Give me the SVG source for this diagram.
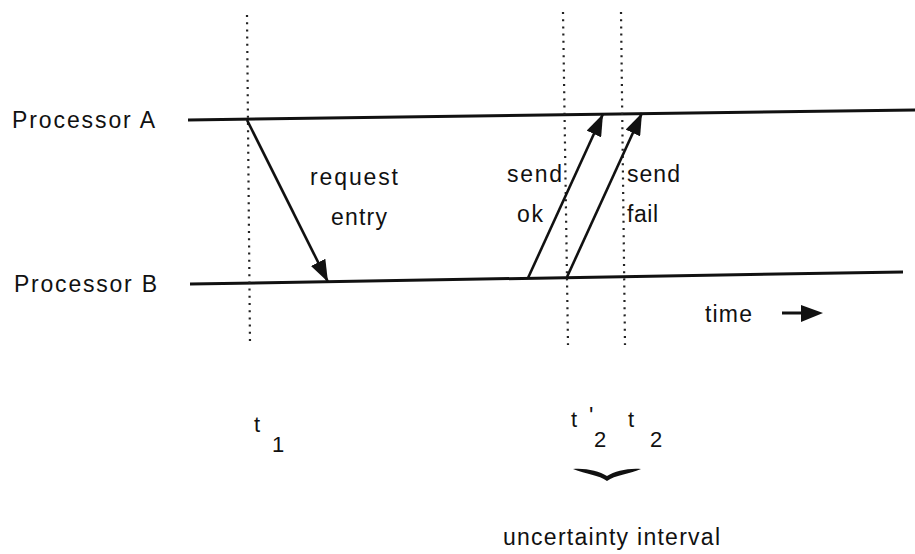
<svg xmlns="http://www.w3.org/2000/svg" width="915" height="554" viewBox="0 0 915 554">
<style>
text{font-family:"Liberation Sans",Arial,sans-serif;font-size:23px;fill:#111}
.sub{font-size:22px}
.line{stroke:#111;stroke-width:3;fill:none}
.arrow{stroke:#111;stroke-width:2.6;fill:none;marker-end:url(#ah)}
.dot{stroke:#222;stroke-width:2.2;stroke-dasharray:2 5.2;fill:none}
</style>
<defs>
<marker id="ah" markerUnits="userSpaceOnUse" viewBox="0 0 22 16" refX="22" refY="8" markerWidth="22" markerHeight="16" orient="auto">
<path d="M0,0 L22,8 L0,16 Z" fill="#111"/>
</marker>
</defs>
<rect width="915" height="554" fill="#fff"/>

<g id="processorA">
<text x="12" y="128" textLength="143" lengthAdjust="spacing">Processor A</text>
<line class="line" x1="188" y1="120" x2="915" y2="110"/>
</g>
<g id="processorB">
<text x="14" y="292" textLength="143" lengthAdjust="spacing">Processor B</text>
<line class="line" x1="190" y1="284" x2="903" y2="272"/>
</g>

<g id="t1">
<line class="dot" x1="247" y1="15" x2="250" y2="345"/>
<text class="sub" x="254" y="432">t</text>
<text class="sub" x="272" y="452">1</text>
</g>
<g id="t2prime">
<line class="dot" x1="563" y1="12" x2="568" y2="345"/>
<text class="sub" x="571" y="427">t</text>
<text x="589" y="424" font-size="16">'</text>
<text class="sub" x="594" y="447">2</text>
</g>
<g id="t2">
<line class="dot" x1="621" y1="12" x2="625" y2="345"/>
<text class="sub" x="628" y="427">t</text>
<text class="sub" x="650" y="447">2</text>
</g>

<g id="uncertainty">
<path d="M573,469 C586,468 599,471 607,476 C615,471 628,468 641,469 C629,474 615,475 607,481 C599,475 586,474 573,469 Z" fill="#111"/>
<text x="503" y="545" textLength="217" lengthAdjust="spacing">uncertainty interval</text>
</g>

<g id="time">
<text x="705" y="322" textLength="47" lengthAdjust="spacing">time</text>
<line x1="782" y1="313" x2="806" y2="313" stroke="#111" stroke-width="3"/>
<path d="M801,305 L823,313 L801,322 Z" fill="#111"/>
</g>

<g id="labels">
<text x="310" y="185" textLength="88" lengthAdjust="spacing">request</text>
<text x="331" y="225" textLength="56" lengthAdjust="spacing">entry</text>
<text x="507" y="182" textLength="55" lengthAdjust="spacing">send</text>
<text x="517" y="222" textLength="26" lengthAdjust="spacing">ok</text>
<text x="627" y="182" textLength="53" lengthAdjust="spacing">send</text>
<text x="627" y="222" textLength="31" lengthAdjust="spacing">fail</text>
</g>

<g id="connectors">
<line class="arrow" x1="247" y1="120" x2="328" y2="282"/>
<line class="arrow" x1="528" y1="278" x2="603" y2="114"/>
<line class="arrow" x1="567" y1="277" x2="642" y2="113"/>
</g>
</svg>
